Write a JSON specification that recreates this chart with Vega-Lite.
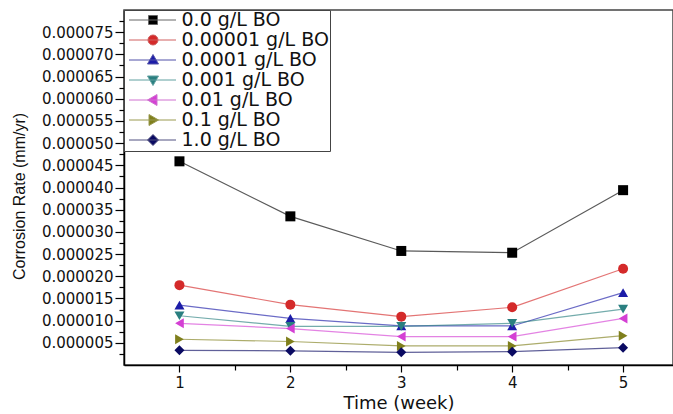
{
  "$schema": "https://vega.github.io/schema/vega-lite/v6.json",
  "width": 549,
  "height": 355,
  "autosize": {"type": "none"},
  "padding": {"left": 124, "top": 10, "right": 0, "bottom": 49},
  "background": "white",
  "config": {
    "view": {"stroke": "#444", "strokeWidth": 1.5},
    "axis": {"domainColor": "#000", "domainWidth": 1.5, "tickColor": "#000", "tickWidth": 1.2, "labelColor": "#111", "titleColor": "#111", "grid": false, "labelFont": "DejaVu Sans", "titleFontWeight": "normal"},
    "legend": {"orient": "none", "legendX": 0, "legendY": 0, "strokeColor": "#444", "fillColor": "white", "padding": 0.5, "rowPadding": 0, "labelFont": "DejaVu Sans", "labelFontSize": 19, "labelColor": "#111", "labelOffset": 38, "symbolSize": 100, "symbolStrokeWidth": 1, "symbolOpacity": 1}
  },
  "data": {"values": [
    {"week": 1, "rate": 0.0000459, "series": "0.0 g/L BO"},
    {"week": 2, "rate": 0.0000335, "series": "0.0 g/L BO"},
    {"week": 3, "rate": 0.0000257, "series": "0.0 g/L BO"},
    {"week": 4, "rate": 0.0000253, "series": "0.0 g/L BO"},
    {"week": 5, "rate": 0.0000394, "series": "0.0 g/L BO"},
    {"week": 1, "rate": 0.0000180, "series": "0.00001 g/L BO"},
    {"week": 2, "rate": 0.0000136, "series": "0.00001 g/L BO"},
    {"week": 3, "rate": 0.0000109, "series": "0.00001 g/L BO"},
    {"week": 4, "rate": 0.0000130, "series": "0.00001 g/L BO"},
    {"week": 5, "rate": 0.0000217, "series": "0.00001 g/L BO"},
    {"week": 1, "rate": 0.0000135, "series": "0.0001 g/L BO"},
    {"week": 2, "rate": 0.0000105, "series": "0.0001 g/L BO"},
    {"week": 3, "rate": 0.0000088, "series": "0.0001 g/L BO"},
    {"week": 4, "rate": 0.0000088, "series": "0.0001 g/L BO"},
    {"week": 5, "rate": 0.0000163, "series": "0.0001 g/L BO"},
    {"week": 1, "rate": 0.0000111, "series": "0.001 g/L BO"},
    {"week": 2, "rate": 0.0000087, "series": "0.001 g/L BO"},
    {"week": 3, "rate": 0.0000087, "series": "0.001 g/L BO"},
    {"week": 4, "rate": 0.0000094, "series": "0.001 g/L BO"},
    {"week": 5, "rate": 0.0000126, "series": "0.001 g/L BO"},
    {"week": 1, "rate": 0.0000094, "series": "0.01 g/L BO"},
    {"week": 2, "rate": 0.0000082, "series": "0.01 g/L BO"},
    {"week": 3, "rate": 0.0000064, "series": "0.01 g/L BO"},
    {"week": 4, "rate": 0.0000064, "series": "0.01 g/L BO"},
    {"week": 5, "rate": 0.0000105, "series": "0.01 g/L BO"},
    {"week": 1, "rate": 0.0000058, "series": "0.1 g/L BO"},
    {"week": 2, "rate": 0.0000053, "series": "0.1 g/L BO"},
    {"week": 3, "rate": 0.0000043, "series": "0.1 g/L BO"},
    {"week": 4, "rate": 0.0000043, "series": "0.1 g/L BO"},
    {"week": 5, "rate": 0.0000066, "series": "0.1 g/L BO"},
    {"week": 1, "rate": 0.0000033, "series": "1.0 g/L BO"},
    {"week": 2, "rate": 0.0000032, "series": "1.0 g/L BO"},
    {"week": 3, "rate": 0.00000285, "series": "1.0 g/L BO"},
    {"week": 4, "rate": 0.0000030, "series": "1.0 g/L BO"},
    {"week": 5, "rate": 0.0000039, "series": "1.0 g/L BO"}
  ]},
  "encoding": {
    "x": {"field": "week", "type": "quantitative",
      "scale": {"domain": [0.5, 5.45], "nice": false, "zero": false},
      "axis": {"title": "Time (week)", "titleFont": "DejaVu Sans", "titleFontSize": 18, "titlePadding": 4,
        "values": [1, 1.5, 2, 2.5, 3, 3.5, 4, 4.5, 5],
        "labelExpr": "datum.value % 1 == 0 ? format(datum.value, 'd') : ''",
        "labelFontSize": 15, "labelPadding": 3,
        "tickSize": {"condition": {"test": "datum.value % 1 == 0", "value": 7}, "value": 5}}},
    "y": {"field": "rate", "type": "quantitative",
      "scale": {"domain": [0, 0.00008], "nice": false},
      "axis": {"title": "Corrosion Rate (mm/yr)", "titleFont": "Liberation Sans", "titleFontSize": 16, "titlePadding": 14, "titleY": 186,
        "values": [0.0000025, 0.000005, 0.0000075, 0.00001, 0.0000125, 0.000015, 0.0000175, 0.00002, 0.0000225, 0.000025, 0.0000275, 0.00003, 0.0000325, 0.000035, 0.0000375, 0.00004, 0.0000425, 0.000045, 0.0000475, 0.00005, 0.0000525, 0.000055, 0.0000575, 0.00006, 0.0000625, 0.000065, 0.0000675, 0.00007, 0.0000725, 0.000075, 0.0000775],
        "labelExpr": "round(datum.value * 400000) % 2 == 0 ? format(datum.value, '.6f') : ''",
        "labelFontSize": 15, "labelPadding": 2,
        "tickSize": {"condition": {"test": "round(datum.value * 400000) % 2 == 0", "value": 9}, "value": 5}}}
  },
  "resolve": {"scale": {"shape": "independent"}, "legend": {"color": "independent", "shape": "independent", "stroke": "independent"}},
  "layer": [
    {"mark": {"type": "line", "strokeWidth": 1.2, "opacity": 0.65},
     "encoding": {
       "color": {"field": "series", "type": "nominal",
         "scale": {"domain": ["0.0 g/L BO", "0.00001 g/L BO", "0.0001 g/L BO", "0.001 g/L BO", "0.01 g/L BO", "0.1 g/L BO", "1.0 g/L BO"],
           "range": ["#000000", "#d42a2a", "#1c1ca8", "#2a7f80", "#d440d4", "#7f7f1c", "#0a0a62"]},
         "legend": null}}},
    {"mark": {"type": "point", "filled": true, "opacity": 1, "size": 100},
     "encoding": {
       "shape": {"field": "series", "type": "nominal",
         "scale": {"domain": ["0.0 g/L BO", "0.00001 g/L BO", "0.0001 g/L BO", "0.001 g/L BO", "0.01 g/L BO", "0.1 g/L BO", "1.0 g/L BO"],
           "range": ["square", "circle", "triangle-up", "triangle-down", "triangle-left", "triangle-right", "diamond"]},
         "legend": null},
       "color": {"field": "series", "type": "nominal", "legend": null}
     }},
    {"mark": {"type": "point", "filled": true, "opacity": 0, "size": 100},
     "encoding": {
       "shape": {"field": "series", "type": "nominal",
         "scale": {"domain": ["0.0 g/L BO", "0.00001 g/L BO", "0.0001 g/L BO", "0.001 g/L BO", "0.01 g/L BO", "0.1 g/L BO", "1.0 g/L BO"],
           "range": ["M-1,0H8.4M2.9,-0.9H4.7V0.9H2.9Z", "M-1,0H8.4M2.8,0A1,1 0 1,0 4.8,0A1,1 0 1,0 2.8,0Z", "M-1,0H8.4M3.8,-1.1L4.9,0.8L2.7,0.8Z", "M-1,0H8.4M3.8,1.1L4.9,-0.8L2.7,-0.8Z", "M-1,0H8.4M2.7,0L4.6,-1.1L4.6,1.1Z", "M-1,0H8.4M4.9,0L3,-1.1L3,1.1Z", "M-1,0H8.4M3.8,-1.1L4.9,0L3.8,1.1L2.7,0Z"]},
         "legend": {"title": null}},
       "color": {"field": "series", "type": "nominal", "legend": {"title": null}},
       "stroke": {"field": "series", "type": "nominal",
         "scale": {"domain": ["0.0 g/L BO", "0.00001 g/L BO", "0.0001 g/L BO", "0.001 g/L BO", "0.01 g/L BO", "0.1 g/L BO", "1.0 g/L BO"],
           "range": ["#666666", "#d06060", "#5050a8", "#60a0a0", "#d070d0", "#9a9a50", "#505080"]},
         "legend": {"title": null}}
     }}
  ]
}
